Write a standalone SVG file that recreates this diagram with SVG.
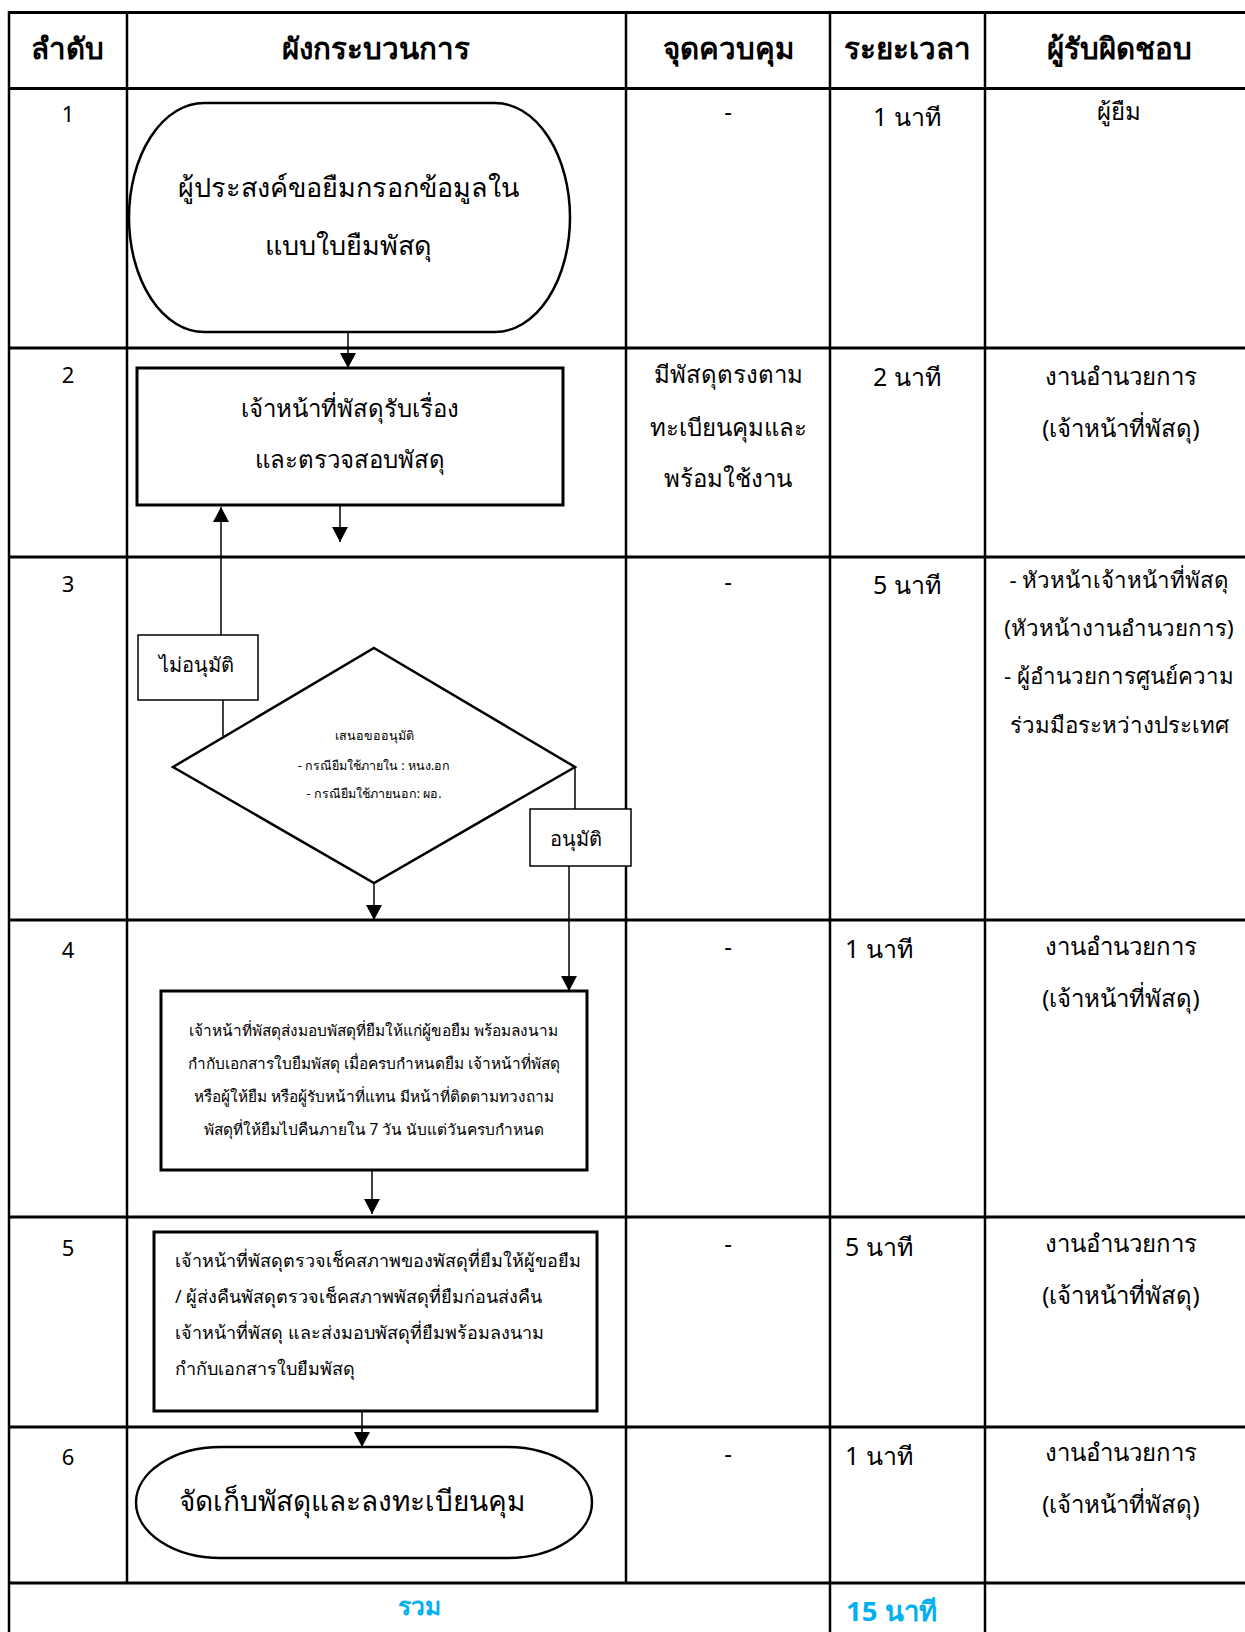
<svg xmlns="http://www.w3.org/2000/svg" width="1245" height="1632" viewBox="0 0 1245 1632">
<defs>
<style>
.t{font-family:"Noto Sans","DejaVu Sans",sans-serif;fill:#000}
.c{text-anchor:middle}
.h{font-weight:bold;font-size:29.5px}
.grid{stroke:#000;stroke-width:3;fill:none}
.gv{stroke:#000;stroke-width:2.5;fill:none}
.shape{fill:#fff;stroke:#000;stroke-width:2.5}
.thick{fill:#fff;stroke:#000;stroke-width:3}
.lbl{fill:#fff;stroke:#000;stroke-width:1.5}
.conn{stroke:#000;stroke-width:1.5;fill:none}
.blue{fill:#00B0F0;font-weight:bold}
</style>
<marker id="arr" viewBox="0 0 15 16" refX="15" refY="8" markerWidth="15" markerHeight="16" markerUnits="userSpaceOnUse" orient="auto">
<path d="M0,0 L15,8 L0,16 z" fill="#000"/>
</marker>
</defs>
<rect width="1245" height="1632" fill="#fff"/>

<g id="table">
<line class="grid" x1="8" y1="12.5" x2="1245" y2="12.5"/>
<line class="grid" x1="8" y1="88.5" x2="1245" y2="88.5"/>
<line class="grid" x1="8" y1="348" x2="1245" y2="348"/>
<line class="grid" x1="8" y1="557" x2="1245" y2="557"/>
<line class="grid" x1="8" y1="920" x2="1245" y2="920"/>
<line class="grid" x1="8" y1="1217" x2="1245" y2="1217"/>
<line class="grid" x1="8" y1="1427" x2="1245" y2="1427"/>
<line class="grid" x1="8" y1="1583" x2="1245" y2="1583"/>
<line class="gv" x1="9" y1="11" x2="9" y2="1632"/>
<line class="gv" x1="127" y1="11" x2="127" y2="1583"/>
<line class="gv" x1="626" y1="11" x2="626" y2="1583"/>
<line class="gv" x1="830" y1="11" x2="830" y2="1632"/>
<line class="gv" x1="985" y1="11" x2="985" y2="1632"/>
</g>

<g id="header">
<text class="t c h" x="67" y="59">ลำดับ</text>
<text class="t c h" x="376" y="59">ผังกระบวนการ</text>
<text class="t c h" x="728" y="59">จุดควบคุม</text>
<text class="t c h" x="907" y="59">ระยะเวลา</text>
<text class="t c h" x="1119" y="59">ผู้รับผิดชอบ</text>
</g>

<g id="col-order" class="t c" font-size="22">
<text x="68" y="122">1</text>
<text x="68" y="383">2</text>
<text x="68" y="592">3</text>
<text x="68" y="958">4</text>
<text x="68" y="1256">5</text>
<text x="68" y="1465">6</text>
</g>

<g id="col-control" class="t c" font-size="24">
<text x="728" y="120">-</text>
<text x="728" y="383">มีพัสดุตรงตาม</text>
<text x="728" y="436">ทะเบียนคุมและ</text>
<text x="728" y="487">พร้อมใช้งาน</text>
<text x="728" y="590">-</text>
<text x="728" y="955">-</text>
<text x="728" y="1252">-</text>
<text x="728" y="1462">-</text>
</g>

<g id="col-time" class="t" font-size="25">
<text class="c" x="907" y="126">1 นาที</text>
<text class="c" x="907" y="386">2 นาที</text>
<text class="c" x="907" y="594">5 นาที</text>
<text x="845" y="958">1 นาที</text>
<text x="845" y="1256">5 นาที</text>
<text x="845" y="1465">1 นาที</text>
</g>

<g id="col-resp" class="t c" font-size="24">
<text x="1119" y="120">ผู้ยืม</text>
<text x="1121" y="385">งานอำนวยการ</text>
<text x="1121" y="437">(เจ้าหน้าที่พัสดุ)</text>
<text x="1119" y="588" font-size="22.3">- หัวหน้าเจ้าหน้าที่พัสดุ</text>
<text x="1119" y="636" font-size="22.3">(หัวหน้างานอำนวยการ)</text>
<text x="1119" y="684" font-size="22.3">- ผู้อำนวยการศูนย์ความ</text>
<text x="1119" y="733" font-size="22.3">ร่วมมือระหว่างประเทศ</text>
<text x="1121" y="955">งานอำนวยการ</text>
<text x="1121" y="1007">(เจ้าหน้าที่พัสดุ)</text>
<text x="1121" y="1252">งานอำนวยการ</text>
<text x="1121" y="1304">(เจ้าหน้าที่พัสดุ)</text>
<text x="1121" y="1461">งานอำนวยการ</text>
<text x="1121" y="1513">(เจ้าหน้าที่พัสดุ)</text>
</g>

<g id="total">
<text class="t c blue" x="419" y="1615" font-size="24.5">รวม</text>
<text class="t blue" x="846" y="1621" font-size="27.5">15 นาที</text>
</g>

<g id="connectors">
<line class="conn" x1="348" y1="332" x2="348" y2="368" marker-end="url(#arr)"/>
<line class="conn" x1="340" y1="505" x2="340" y2="542" marker-end="url(#arr)"/>
<line class="conn" x1="223" y1="736" x2="223" y2="700"/>
<line class="conn" x1="221" y1="635" x2="221" y2="507" marker-end="url(#arr)"/>
<line class="conn" x1="575" y1="767" x2="575" y2="809"/>
<line class="conn" x1="569" y1="866" x2="569" y2="991" marker-end="url(#arr)"/>
<line class="conn" x1="374" y1="883" x2="374" y2="920" marker-end="url(#arr)"/>
<line class="conn" x1="372" y1="1170" x2="372" y2="1214" marker-end="url(#arr)"/>
<line class="conn" x1="362" y1="1411" x2="362" y2="1447" marker-end="url(#arr)"/>
</g>

<g id="node1">
<rect class="shape" x="129" y="103" width="441" height="229" rx="75" ry="114.5"/>
<text class="t c" x="348" y="197" font-size="27">ผู้ประสงค์ขอยืมกรอกข้อมูลใน</text>
<text class="t c" x="348" y="255" font-size="27">แบบใบยืมพัสดุ</text>
</g>

<g id="node2">
<rect class="thick" x="137" y="368" width="426" height="137"/>
<text class="t c" x="350" y="417" font-size="24">เจ้าหน้าที่พัสดุรับเรื่อง</text>
<text class="t c" x="350" y="468" font-size="24">และตรวจสอบพัสดุ</text>
</g>

<g id="node3">
<polygon class="shape" points="374,648 575,767 374,883 173,767"/>
<text class="t c" x="374" y="740" font-size="12.5">เสนอขออนุมัติ</text>
<text class="t c" x="374" y="770" font-size="12.5">- กรณียืมใช้ภายใน : หนง.อก</text>
<text class="t c" x="374" y="798" font-size="12.5">- กรณียืมใช้ภายนอก: ผอ.</text>
</g>

<g id="label-no">
<rect class="lbl" x="138" y="635" width="120" height="65"/>
<text class="t c" x="196" y="672" font-size="20">ไม่อนุมัติ</text>
</g>

<g id="label-yes">
<rect class="lbl" x="530" y="809" width="101" height="57"/>
<text class="t c" x="576" y="846" font-size="20">อนุมัติ</text>
</g>

<g id="node4">
<rect class="thick" x="161" y="991" width="426" height="179"/>
<g class="t c" font-size="15.4">
<text x="374" y="1036">เจ้าหน้าที่พัสดุส่งมอบพัสดุที่ยืมให้แก่ผู้ขอยืม พร้อมลงนาม</text>
<text x="374" y="1069">กำกับเอกสารใบยืมพัสดุ เมื่อครบกำหนดยืม เจ้าหน้าที่พัสดุ</text>
<text x="374" y="1102">หรือผู้ให้ยืม หรือผู้รับหน้าที่แทน มีหน้าที่ติดตามทวงถาม</text>
<text x="374" y="1135">พัสดุที่ให้ยืมไปคืนภายใน 7 วัน นับแต่วันครบกำหนด</text>
</g>
</g>

<g id="node5">
<rect class="thick" x="154" y="1232" width="443" height="179"/>
<g class="t" font-size="18">
<text x="175" y="1267">เจ้าหน้าที่พัสดุตรวจเช็คสภาพของพัสดุที่ยืมให้ผู้ขอยืม</text>
<text x="175" y="1303">/ ผู้ส่งคืนพัสดุตรวจเช็คสภาพพัสดุที่ยืมก่อนส่งคืน</text>
<text x="175" y="1339">เจ้าหน้าที่พัสดุ และส่งมอบพัสดุที่ยืมพร้อมลงนาม</text>
<text x="175" y="1375">กำกับเอกสารใบยืมพัสดุ</text>
</g>
</g>

<g id="node6">
<rect class="shape" x="136" y="1447" width="456" height="111" rx="85" ry="55.5"/>
<text class="t" x="179" y="1511" font-size="28">จัดเก็บพัสดุและลงทะเบียนคุม</text>
</g>
</svg>
